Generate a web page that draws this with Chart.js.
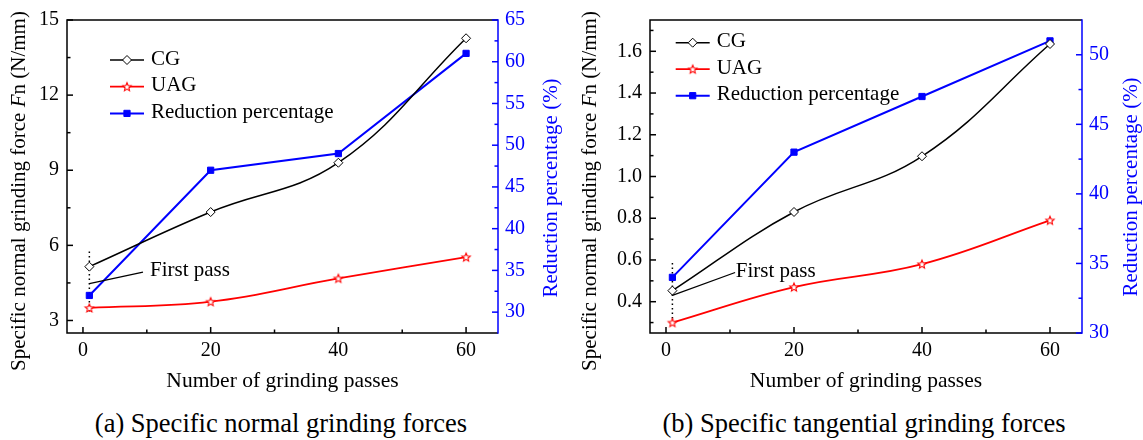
<!DOCTYPE html>
<html>
<head>
<meta charset="utf-8">
<script src="https://cdn.jsdelivr.net/npm/chart.js@4.4.1/dist/chart.umd.min.js"></script>
<style>
  html, body { margin: 0; padding: 0; background: #fff; }
  #page { position: relative; width: 1143px; height: 440px; overflow: hidden; }
  .panel { position: absolute; top: 0; height: 400px; }
  .caption {
    position: absolute; top: 407px; line-height: 32px; white-space: nowrap;
    font-family: 'Liberation Serif', 'Times New Roman', serif; font-size: 26.5px; color: #000;
    transform: translateX(-50%);
  }
</style>
</head>
<body>
<div id="page">
  <div class="panel" style="left:0;width:570px"><canvas id="chartNormal"></canvas></div>
  <div class="panel" style="left:570px;width:573px"><canvas id="chartTangential"></canvas></div>
  <div class="caption" style="left:281px">(a) Specific normal grinding forces</div>
  <div class="caption" style="left:864px">(b) Specific tangential grinding forces</div>
</div>
<script>
// x values: number of grinding passes
const passes = [1, 20, 40, 60];
const seriesLabels = ['CG', 'UAG', 'Reduction percentage'];

// (a) specific normal grinding force (N/mm) and reduction (%)
const cgNormal = [5.15, 7.33, 9.3, 14.27];
const uagNormal = [3.5, 3.75, 4.68, 5.53];
const reductionNormal = [32, 47, 49, 61];

// (b) specific tangential grinding force (N/mm) and reduction (%)
const cgTangential = [0.453, 0.83, 1.097, 1.635];
const uagTangential = [0.30, 0.47, 0.58, 0.79];
const reductionTangential = [34, 43, 47, 51];

// tick values
const passTicks = [0, 20, 40, 60];
const normalTicks = [3, 6, 9, 12, 15];
const tangentialTicks = [0.4, 0.6, 0.8, 1.0, 1.2, 1.4, 1.6];
const reductionTicksA = [30, 35, 40, 45, 50, 55, 60, 65];
const reductionTicksB = [30, 35, 40, 45, 50];

// "First pass" note, in data units (left axis)
const firstPassDotsA = [5.75, 3.3];
const firstPassLeaderA = [1, 4.47, 9.4, 4.93];
const firstPassTextA = [10.5, 4.76];
const firstPassDotsB = [0.585, 0.31];
const firstPassLeaderB = [1, 0.43, 10.8, 0.54];
const firstPassTextB = [10.9, 0.52];

const FONT = "'Liberation Serif', 'Times New Roman', serif";
const BLUE = '#0000ff';
const RED = '#ff0000';
Chart.defaults.font.family = FONT;
Chart.defaults.color = '#000';

function makeStar(color, r) {
  const c = document.createElement('canvas');
  const s = 2 * Math.ceil(r + 2);
  c.width = s; c.height = s;
  const g = c.getContext('2d');
  g.translate(s / 2, s / 2 + 0.4);
  g.beginPath();
  for (let k = 0; k < 10; k++) {
    const rr = k % 2 ? r * 0.45 : r;
    const ang = -Math.PI / 2 + k * Math.PI / 5;
    g.lineTo(rr * Math.cos(ang), rr * Math.sin(ang));
  }
  g.closePath();
  g.fillStyle = '#fff'; g.fill();
  g.lineWidth = 1.1; g.strokeStyle = color; g.stroke();
  return c;
}
const starMark = makeStar(RED, 4.4);

function minorTicks(major, min, max) {
  const step = major[1] - major[0];
  const out = [];
  for (let v = major[0] - step / 2; v < max - 1e-9; v += step) {
    if (v > min + 1e-9) out.push(v);
  }
  return out;
}

function drawTickSet(ctx, scale, values, len, edge, dir) {
  values.forEach(v => {
    const p = scale.getPixelForValue(v);
    ctx.beginPath();
    if (scale.isHorizontal()) { ctx.moveTo(p, edge); ctx.lineTo(p, edge - len); }
    else { ctx.moveTo(edge, p); ctx.lineTo(edge + dir * len, p); }
    ctx.stroke();
  });
}

function drawRotated(ctx, cx, cy, parts, color) {
  ctx.save();
  ctx.translate(cx, cy);
  ctx.rotate(-Math.PI / 2);
  ctx.fillStyle = color;
  ctx.textBaseline = 'middle';
  let total = 0;
  parts.forEach(p => { ctx.font = (p[1] ? 'italic ' : '') + '21px ' + FONT; total += ctx.measureText(p[0]).width; });
  let x = -total / 2;
  parts.forEach(p => {
    ctx.font = (p[1] ? 'italic ' : '') + '21px ' + FONT;
    ctx.fillText(p[0], x, 0);
    x += ctx.measureText(p[0]).width;
  });
  ctx.restore();
}

const panelDecor = {
  id: 'panelDecor',
  beforeDatasetsDraw(chart, args, o) {
    const { ctx, chartArea: a, scales } = chart;
    ctx.save();
    ctx.lineWidth = 1.5;
    ctx.strokeStyle = '#000';
    drawTickSet(ctx, scales.y, o.leftTicks, 6, a.left, 1);
    drawTickSet(ctx, scales.y, minorTicks(o.leftTicks, scales.y.min, scales.y.max), 3.5, a.left, 1);
    drawTickSet(ctx, scales.x, passTicks, 6, a.bottom, 1);
    drawTickSet(ctx, scales.x, minorTicks(passTicks, scales.x.min, scales.x.max), 3.5, a.bottom, 1);
    ctx.beginPath();
    ctx.moveTo(a.right, a.top); ctx.lineTo(a.left, a.top);
    ctx.lineTo(a.left, a.bottom); ctx.lineTo(a.right, a.bottom);
    ctx.stroke();
    ctx.strokeStyle = BLUE;
    drawTickSet(ctx, scales.y1, o.rightTicks, 6, a.right, -1);
    drawTickSet(ctx, scales.y1, minorTicks(o.rightTicks, scales.y1.min, scales.y1.max), 3.5, a.right, -1);
    ctx.beginPath();
    ctx.moveTo(a.right, a.top - 0.75); ctx.lineTo(a.right, a.bottom + 0.75);
    ctx.stroke();
    // dotted guide at the first pass
    const xp = scales.x.getPixelForValue(passes[0]);
    ctx.strokeStyle = '#000';
    ctx.setLineDash([1.5, 3]);
    ctx.beginPath();
    ctx.moveTo(xp, scales.y.getPixelForValue(o.dots[0]));
    ctx.lineTo(xp, scales.y.getPixelForValue(o.dots[1]));
    ctx.stroke();
    ctx.restore();
  },
  afterDatasetsDraw(chart, args, o) {
    const { ctx, scales } = chart;
    const L = o.leader;
    ctx.save();
    ctx.strokeStyle = '#000';
    ctx.lineWidth = 1.3;
    ctx.beginPath();
    ctx.moveTo(scales.x.getPixelForValue(L[0]), scales.y.getPixelForValue(L[1]));
    ctx.lineTo(scales.x.getPixelForValue(L[2]), scales.y.getPixelForValue(L[3]));
    ctx.stroke();
    ctx.fillStyle = '#000';
    ctx.font = '21px ' + FONT;
    ctx.textBaseline = 'alphabetic';
    ctx.fillText('First pass', scales.x.getPixelForValue(o.text[0]), scales.y.getPixelForValue(o.text[1]));
    ctx.restore();
  },
  afterDraw(chart, args, o) {
    const { ctx } = chart;
    ctx.save();
    // legend inside the plot
    chart.data.datasets.forEach((ds, i) => {
      const y = o.legend.y + i * o.legend.gap;
      const x0 = o.legend.x;
      ctx.strokeStyle = ds.borderColor;
      ctx.lineWidth = ds.borderWidth;
      ctx.beginPath(); ctx.moveTo(x0, y); ctx.lineTo(x0 + 34, y); ctx.stroke();
      ctx.fillStyle = ds.pointBackgroundColor;
      ctx.strokeStyle = ds.pointBorderColor;
      ctx.lineWidth = ds.pointBorderWidth;
      Chart.helpers.drawPoint(ctx, { pointStyle: ds.pointStyle, radius: ds.pointRadius, borderWidth: ds.pointBorderWidth, rotation: 0 }, x0 + 17, y);
      ctx.fillStyle = '#000';
      ctx.font = '21px ' + FONT;
      ctx.textBaseline = 'middle';
      ctx.fillText(ds.label, x0 + 41, y - 1);
    });
    // axis titles
    drawRotated(ctx, o.leftTitle[0], o.leftTitle[1],
      [['Specific normal grinding force ', false], ['F', true], ['n (N/mm)', false]], '#000');
    drawRotated(ctx, o.rightTitle[0], o.rightTitle[1], [['Reduction percentage (%)', false]], BLUE);
    ctx.restore();
  }
};

function seriesSets(cg, uag, red) {
  const pts = arr => passes.map((x, i) => ({ x, y: arr[i] }));
  return [
    { label: seriesLabels[0], data: pts(cg), yAxisID: 'y', borderColor: '#000', borderWidth: 1.5,
      tension: 0.4, pointStyle: 'rectRot', pointRadius: 4.5, pointBorderWidth: 1,
      pointBackgroundColor: '#fff', pointBorderColor: '#000' },
    { label: seriesLabels[1], data: pts(uag), yAxisID: 'y', borderColor: RED, borderWidth: 1.8,
      tension: 0.4, pointStyle: starMark, pointRadius: 4.5, pointBorderWidth: 1,
      pointBackgroundColor: '#fff', pointBorderColor: RED },
    { label: seriesLabels[2], data: pts(red), yAxisID: 'y1', borderColor: BLUE, borderWidth: 2,
      tension: 0, pointStyle: 'rect', pointRadius: 4.4, pointBorderWidth: 1,
      pointBackgroundColor: BLUE, pointBorderColor: BLUE }
  ];
}

function buildPanel(id, p) {
  return new Chart(document.getElementById(id), {
    type: 'line',
    data: { datasets: seriesSets(p.cg, p.uag, p.red) },
    options: {
      responsive: true,
      maintainAspectRatio: false,
      animation: false,
      events: [],
      layout: { padding: { top: p.top, left: 0, right: 0, bottom: 0 } },
      plugins: {
        legend: { display: false },
        tooltip: { enabled: false },
        panelDecor: {
          leftTicks: p.leftTicks, rightTicks: p.rightTicks,
          dots: p.dots, leader: p.leader, text: p.text,
          legend: p.legend, leftTitle: p.leftTitle, rightTitle: p.rightTitle
        }
      },
      scales: {
        x: {
          type: 'linear', min: -2.5, max: 65,
          grid: { display: false, drawTicks: false }, border: { display: false },
          afterBuildTicks: s => { s.ticks = passTicks.map(v => ({ value: v })); },
          afterFit: s => { s.height = 67; },
          ticks: { color: '#000', font: { size: 20 }, padding: 6, maxRotation: 0, autoSkip: false },
          title: { display: true, text: 'Number of grinding passes', color: '#000',
                   font: { size: 21.5 }, padding: { top: 0, bottom: 6 } }
        },
        y: {
          position: 'left', min: p.leftRange[0], max: p.leftRange[1],
          grid: { display: false, drawTicks: false }, border: { display: false },
          afterBuildTicks: s => { s.ticks = p.leftTicks.map(v => ({ value: v })); },
          afterFit: s => { s.width = p.leftWidth; },
          ticks: { color: '#000', font: { size: 20 }, padding: 8, autoSkip: false,
                   callback: v => v.toFixed(p.decimals) }
        },
        y1: {
          position: 'right', min: p.rightRange[0], max: p.rightRange[1],
          grid: { display: false, drawTicks: false }, border: { display: false },
          afterBuildTicks: s => { s.ticks = p.rightTicks.map(v => ({ value: v })); },
          afterFit: s => { s.width = p.rightWidth; },
          ticks: { color: BLUE, font: { size: 20 }, padding: 7, autoSkip: false }
        }
      }
    },
    plugins: [panelDecor]
  });
}

buildPanel('chartNormal', {
  cg: cgNormal, uag: uagNormal, red: reductionNormal,
  leftRange: [2.5, 15], rightRange: [27.5, 65],
  leftTicks: normalTicks, rightTicks: reductionTicksA, decimals: 0,
  top: 17, leftWidth: 67, rightWidth: 72,
  dots: firstPassDotsA, leader: firstPassLeaderA, text: firstPassTextA,
  legend: { x: 110, y: 60, gap: 26.7 },
  leftTitle: [19.6, 191], rightTitle: [551.8, 188]
});

buildPanel('chartTangential', {
  cg: cgTangential, uag: uagTangential, red: reductionTangential,
  leftRange: [0.25, 1.75], rightRange: [30, 52.5],
  leftTicks: tangentialTicks, rightTicks: reductionTicksB, decimals: 1,
  top: 18, leftWidth: 80, rightWidth: 61,
  dots: firstPassDotsB, leader: firstPassLeaderB, text: firstPassTextB,
  legend: { x: 105.7, y: 42.7, gap: 26.5 },
  leftTitle: [20.1, 191], rightTitle: [561.7, 187]
});
</script>
</body>
</html>
